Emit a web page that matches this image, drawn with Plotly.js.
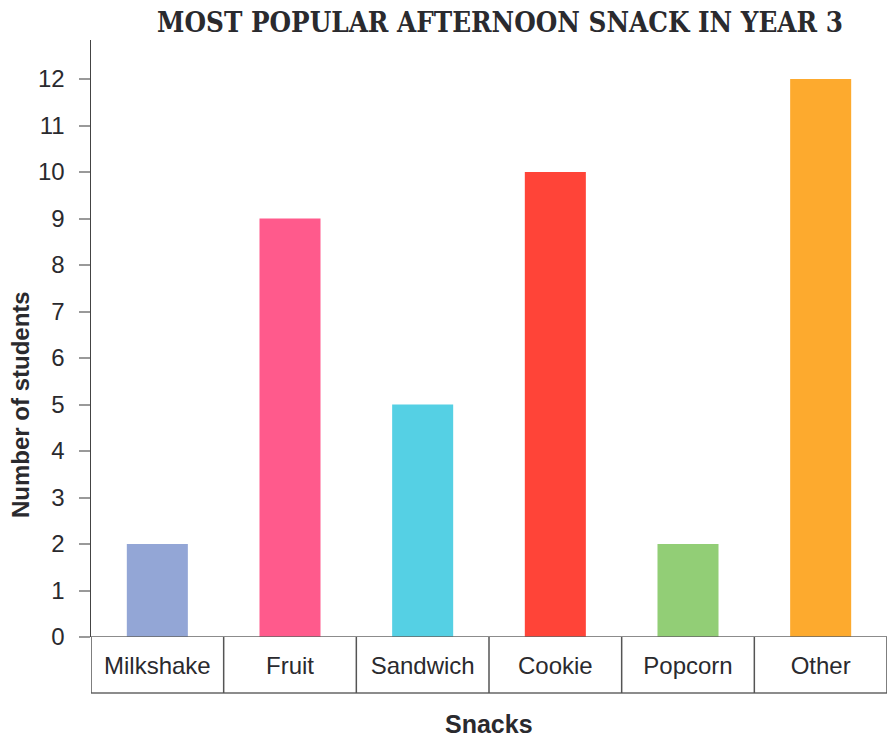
<!DOCTYPE html>
<html>
<head>
<meta charset="utf-8">
<script src="https://cdn.plot.ly/plotly-3.0.1.min.js"></script>
<style>html,body{margin:0;padding:0;background:#fff;}#chart{width:887px;height:738px;}</style>
</head>
<body>
<div id="chart"></div>
<script>
const categories = ["Milkshake", "Fruit", "Sandwich", "Cookie", "Popcorn", "Other"];
const students = [2, 9, 5, 10, 2, 12];
const barColors = ["#93A6D6", "#FF5A8C", "#55D0E4", "#FF4438", "#92CE76", "#FDAA2E"];
const yTicks = [0,1,2,3,4,5,6,7,8,9,10,11,12];
const chartTitle = "MOST POPULAR AFTERNOON SNACK IN YEAR 3";
const xTitle = "Snacks";
const yTitle = "Number of students";

const idx = categories.map((c, i) => i);

const trace = {
  type: "bar",
  x: idx,
  y: students,
  marker: {color: barColors},
  width: 0.46,
  hoverinfo: "skip"
};

const tableBottom = -56/597;
const shapes = [];
shapes.push({type:"line", xref:"x", yref:"y", x0:-0.5, x1:categories.length-0.5, y0:0, y1:0, line:{color:"#666", width:1.5}});
shapes.push({type:"line", xref:"x", yref:"paper", x0:-0.5, x1:categories.length-0.5, y0:tableBottom, y1:tableBottom, line:{color:"#666", width:1.5}});
for (let i = 0; i <= categories.length; i++) {
  shapes.push({type:"line", xref:"x", yref:"paper", x0:i-0.5, x1:i-0.5, y0:tableBottom, y1:0, line:{color:"#555", width:1.5}});
}

const layout = {
  width: 887, height: 738,
  margin: {l: 91, r: 0, t: 40, b: 101},
  paper_bgcolor: "#fff", plot_bgcolor: "#fff",
  showlegend: false,
  font: {family: "Liberation Sans, Arial, sans-serif", color: "#2a2a2e"},
  title: {
    text: chartTitle,
    font: {family: "DejaVu Serif Condensed, DejaVu Serif, serif", size: 27.5, color: "#2a2a2e", weight: "bold"},
    x: 500/887, xanchor: "center", y: 1 - 22/738, yanchor: "middle"
  },
  xaxis: {
    range: [-0.5, categories.length - 0.5],
    tickmode: "array", tickvals: idx, ticktext: categories,
    ticks: "", showline: false, showgrid: false, zeroline: false,
    tickfont: {size: 24, color: "#2a2a2e"},
    ticklabelstandoff: 12,
    fixedrange: true
  },
  yaxis: {
    range: [0, 597/46.5],
    tickmode: "array", tickvals: yTicks,
    ticks: "outside", ticklen: 11, tickcolor: "#999", tickwidth: 2,
    showline: true, linecolor: "#444", linewidth: 1.5,
    showgrid: false, zeroline: false,
    tickfont: {size: 24, color: "#2a2a2e"},
    ticklabelstandoff: 9,
    fixedrange: true
  },
  shapes: shapes,
  annotations: [
    {text: xTitle, xref: "paper", yref: "paper", x: 0.5, y: -(724-637)/597, xanchor: "center", yanchor: "middle",
     showarrow: false, font: {size: 25, weight: "bold", color: "#2a2a2e"}},
    {text: yTitle, xref: "paper", yref: "paper", x: -(91-21)/796, y: (637-405)/597, xanchor: "center", yanchor: "middle",
     textangle: -90, showarrow: false, font: {size: 24, weight: "bold", color: "#2a2a2e"}}
  ]
};

Plotly.newPlot("chart", [trace], layout, {displayModeBar: false, staticPlot: true});
</script>
</body>
</html>
